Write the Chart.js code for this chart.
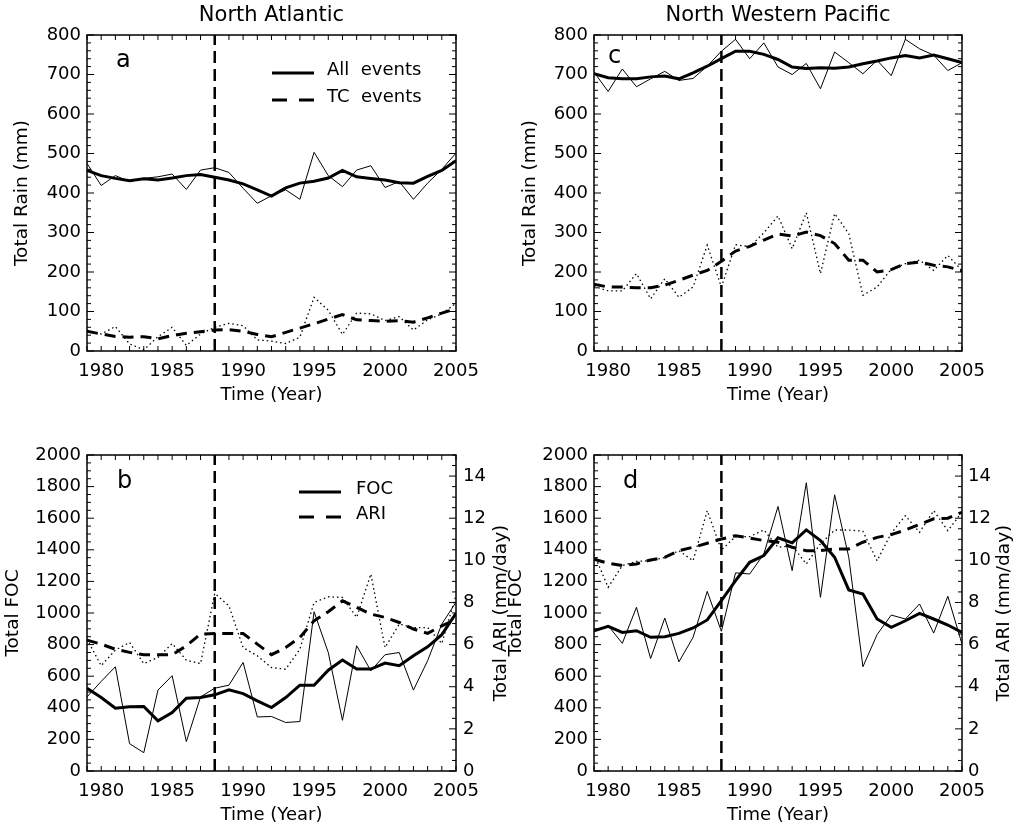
<!DOCTYPE html>
<html lang="en">
<head>
<meta charset="UTF-8">
<title>Rain, FOC and ARI time series</title>
<style>
  body { margin: 0; background: #fff; width: 1019px; height: 828px; overflow: hidden; position: relative; }
  canvas { position: absolute; }
</style>
<script src="https://cdn.jsdelivr.net/npm/chart.js"></script>
</head>
<body>
<canvas id="panelA" width="510" height="414" style="left:0;top:0"></canvas>
<canvas id="panelC" width="519" height="414" style="left:500px;top:0"></canvas>
<canvas id="panelB" width="514" height="414" style="left:0;top:420px"></canvas>
<canvas id="panelD" width="519" height="414" style="left:500px;top:420px"></canvas>
<script>
// years and axis ticks
const years = [1979, 1980, 1981, 1982, 1983, 1984, 1985, 1986, 1987, 1988, 1989, 1990, 1991,
               1992, 1993, 1994, 1995, 1996, 1997, 1998, 1999, 2000, 2001, 2002, 2003, 2004, 2005];
const yearTicks = [1980, 1985, 1990, 1995, 2000, 2005];
const shiftYear = 1988;
const rainTicks = [0, 100, 200, 300, 400, 500, 600, 700, 800];
const focTicks = [0, 200, 400, 600, 800, 1000, 1200, 1400, 1600, 1800, 2000];
const ariTicks = [0, 2, 4, 6, 8, 10, 12, 14];
const rainRange = [0, 800];
const focRange = [0, 2000];
const ariRange = [0, 15];

// (a) North Atlantic total rain
const naRainAll = [475, 419, 444, 429, 437, 441, 448, 409, 458, 464, 452, 412, 374, 393, 408, 384, 503, 444, 416, 458, 469, 414, 429, 384, 425, 460, 501];
const naRainAllSmooth = [457, 444, 437, 431, 436, 433, 438, 444, 447, 440, 433, 423, 408, 392, 413, 425, 430, 438, 457, 441, 437, 433, 426, 425, 442, 457, 482];
const naRainTC = [52, 43, 62, 18, 3, 36, 60, 14, 43, 60, 70, 64, 28, 25, 19, 35, 136, 103, 42, 96, 94, 77, 87, 53, 79, 94, 121];
const naRainTCSmooth = [50, 43, 37, 35, 36, 31, 39, 45, 49, 53, 54, 50, 42, 36, 47, 58, 69, 81, 92, 79, 77, 75, 77, 73, 84, 96, 107];

// (c) North Western Pacific total rain
const wpRainAll = [706, 657, 714, 669, 689, 708, 685, 690, 721, 759, 789, 740, 780, 719, 700, 728, 664, 757, 730, 702, 736, 697, 789, 765, 749, 710, 730];
const wpRainAllSmooth = [702, 692, 689, 689, 694, 696, 689, 704, 721, 740, 759, 759, 751, 738, 719, 715, 717, 716, 719, 727, 734, 742, 748, 742, 749, 740, 730];
const wpRainTC = [164, 152, 152, 196, 132, 183, 136, 162, 268, 162, 269, 264, 299, 342, 259, 350, 196, 348, 297, 141, 162, 207, 221, 230, 204, 242, 204];
const wpRainTCSmooth = [169, 162, 162, 160, 160, 167, 179, 192, 204, 227, 253, 265, 281, 296, 291, 301, 292, 272, 230, 230, 200, 206, 221, 225, 217, 213, 203];

// (b) North Atlantic FOC and ARI
const naFOC = [469, 567, 660, 173, 116, 512, 603, 186, 469, 524, 543, 687, 342, 345, 307, 313, 1008, 750, 321, 793, 634, 736, 750, 512, 698, 930, 1068];
const naFOCSmooth = [524, 465, 397, 406, 408, 317, 370, 461, 465, 482, 514, 490, 444, 402, 465, 543, 543, 638, 702, 645, 645, 683, 666, 729, 786, 863, 998];
const naARI = [6.26, 5.0, 5.74, 6.10, 5.10, 5.39, 6.05, 5.26, 5.10, 8.43, 7.84, 5.86, 5.47, 4.91, 4.83, 5.78, 8.00, 8.27, 8.24, 7.29, 9.35, 5.86, 6.97, 6.81, 6.81, 6.05, 8.35];
const naARISmooth = [6.21, 6.02, 5.78, 5.63, 5.52, 5.52, 5.52, 5.94, 6.50, 6.53, 6.53, 6.53, 6.02, 5.52, 5.86, 6.34, 7.13, 7.56, 8.08, 7.77, 7.45, 7.29, 7.05, 6.74, 6.53, 6.89, 7.20];

// (d) North Western Pacific FOC and ARI
const wpFOC = [888, 920, 808, 1036, 712, 968, 691, 846, 1137, 884, 1254, 1247, 1374, 1674, 1268, 1824, 1099, 1748, 1353, 660, 863, 987, 962, 1057, 873, 1106, 803];
const wpFOCSmooth = [888, 915, 877, 888, 846, 850, 871, 905, 956, 1078, 1205, 1321, 1364, 1476, 1444, 1526, 1459, 1353, 1146, 1120, 962, 909, 951, 998, 962, 924, 877];
const wpARI = [10.30, 8.72, 9.75, 9.95, 9.98, 10.14, 10.46, 9.98, 12.36, 10.49, 11.13, 11.13, 11.44, 10.62, 10.70, 9.83, 10.78, 11.44, 11.44, 11.38, 9.98, 11.29, 12.12, 11.33, 12.36, 11.41, 12.28];
const wpARISmooth = [10.06, 9.86, 9.75, 9.83, 10.02, 10.14, 10.46, 10.62, 10.81, 11.01, 11.17, 11.06, 10.94, 10.86, 10.62, 10.46, 10.46, 10.54, 10.54, 10.86, 11.09, 11.22, 11.44, 11.70, 11.97, 12.00, 12.28];

const ink = '#000';
Chart.defaults.font.family = '"DejaVu Sans", sans-serif';
Chart.defaults.color = ink;
Chart.defaults.animation = false;

function line(values, width, dash, axis) {
  return {
    data: years.map((yr, i) => ({x: yr, y: values[i]})),
    yAxisID: axis || 'y',
    borderColor: ink,
    borderWidth: width,
    borderDash: dash,
    borderCapStyle: 'butt',
    pointRadius: 0,
    tension: 0,
    fill: false
  };
}

// vertical dashed line at 1988
function marker(range) {
  return {
    data: [{x: shiftYear, y: range[0]}, {x: shiftYear, y: range[1]}],
    yAxisID: 'y',
    borderColor: ink,
    borderWidth: 2.5,
    borderDash: [12, 6],
    pointRadius: 0
  };
}

function xScale() {
  return {
    type: 'linear',
    min: years[0],
    max: years[years.length - 1],
    afterBuildTicks: s => { s.ticks = yearTicks.map(v => ({value: v})); },
    afterFit: s => { s.height = 63; },
    grid: {display: false, drawTicks: false},
    border: {display: false},
    ticks: {padding: 10, font: {size: 18}, callback: v => String(v), maxRotation: 0, autoSkip: false},
    title: {display: true, text: 'Time (Year)', font: {size: 18}, padding: {top: 0, bottom: 7.7}}
  };
}

function leftScale(tickVals, range, title, width, titlePad) {
  return {
    type: 'linear',
    position: 'left',
    min: range[0],
    max: range[1],
    afterBuildTicks: s => { s.ticks = tickVals.map(v => ({value: v})); },
    afterFit: s => { s.width = width; },
    grid: {display: false, drawTicks: false},
    border: {display: false},
    ticks: {padding: 6, font: {size: 18}, callback: v => String(v), autoSkip: false},
    title: {display: true, text: title, font: {size: 18.5}, padding: {top: titlePad, bottom: 0}}
  };
}

function rightScale(tickVals, range, width, pad) {
  return {
    type: 'linear',
    position: 'right',
    min: range[0],
    max: range[1],
    afterBuildTicks: s => { s.ticks = tickVals.map(v => ({value: v})); },
    afterFit: s => { s.width = width; },
    grid: {display: false, drawTicks: false},
    border: {display: false},
    ticks: {padding: pad, font: {size: 18}, callback: v => String(v), autoSkip: false}
  };
}

// frame, inward ticks, panel letter, legend, right axis title
const panelDeco = {
  id: 'panelDeco',
  afterDatasetsDraw(chart, args, o) {
    const {ctx, chartArea: a, scales} = chart;
    ctx.save();
    ctx.strokeStyle = ink;
    ctx.fillStyle = ink;
    ctx.setLineDash([]);
    ctx.lineWidth = 1.5;
    ctx.strokeRect(a.left, a.top, a.right - a.left, a.bottom - a.top);

    ctx.lineWidth = 1;
    ctx.beginPath();
    years.forEach(yr => {
      const px = scales.x.getPixelForValue(yr);
      ctx.moveTo(px, a.bottom); ctx.lineTo(px, a.bottom - 5);
      ctx.moveTo(px, a.top); ctx.lineTo(px, a.top + 5);
    });
    const tickSide = (scale, minor, major, left, right) => {
      for (let v = scale.min; v <= scale.max + 1e-9; v += minor) {
        const py = scale.getPixelForValue(v);
        const r = v / major;
        const len = Math.abs(r - Math.round(r)) < 1e-6 ? 7 : 4;
        if (left) { ctx.moveTo(a.left, py); ctx.lineTo(a.left + len, py); }
        if (right) { ctx.moveTo(a.right, py); ctx.lineTo(a.right - len, py); }
      }
    };
    tickSide(scales.y, o.yMinor, o.yMajor, true, !scales.y2);
    if (scales.y2) tickSide(scales.y2, o.y2Minor, o.y2Major, false, true);
    ctx.stroke();

    ctx.font = '24px "DejaVu Sans"';
    ctx.textBaseline = 'alphabetic';
    ctx.textAlign = 'left';
    ctx.fillText(o.letter, a.left + o.letterAt[0], a.top + o.letterAt[1]);

    if (o.legend) {
      const L = o.legend;
      ctx.font = '18px "DejaVu Sans"';
      L.items.forEach((it, i) => {
        const y = a.top + L.at[1] + i * L.rowGap;
        const x = a.left + L.at[0];
        ctx.lineWidth = 3;
        ctx.setLineDash(it.dash);
        ctx.beginPath();
        ctx.moveTo(x, y); ctx.lineTo(x + 42, y);
        ctx.stroke();
        ctx.setLineDash([]);
        ctx.fillText(it.text, x + L.textGap, y + 2);
      });
    }

    if (o.rightTitle && scales.y2) {
      ctx.font = '18.5px "DejaVu Sans"';
      ctx.textAlign = 'center';
      ctx.textBaseline = 'middle';
      ctx.translate(scales.y2.right - o.rightTitle.inset, (a.top + a.bottom) / 2);
      ctx.rotate(-Math.PI / 2);
      ctx.fillText(o.rightTitle.text, 0, 0);
    }
    ctx.restore();
  }
};

function topTitle(text) {
  return {display: true, text: text, fullSize: false, font: {size: 21, weight: 'normal'},
          color: ink, padding: {top: 3, bottom: 6.8}};
}

// (a)
new Chart(document.getElementById('panelA'), {
  type: 'line',
  data: {datasets: [
    marker(rainRange),
    line(naRainAll, 1, []),
    line(naRainTC, 1.3, [1.5, 3]),
    line(naRainAllSmooth, 3, []),
    line(naRainTCSmooth, 3, [11, 7])
  ]},
  options: {
    responsive: false,
    layout: {padding: {left: 0, right: 54, top: 0, bottom: 0}},
    scales: {x: xScale(), y: leftScale(rainTicks, rainRange, 'Total Rain (mm)', 87, 10.9)},
    plugins: {
      legend: {display: false},
      tooltip: {enabled: false},
      title: topTitle('North Atlantic'),
      panelDeco: {
        letter: 'a', letterAt: [29, 32], yMinor: 20, yMajor: 100,
        legend: {at: [185, 38], rowGap: 27, textGap: 55,
                 items: [{text: 'All  events', dash: []}, {text: 'TC  events', dash: [15, 12]}]}
      }
    }
  },
  plugins: [panelDeco]
});

// (c)
new Chart(document.getElementById('panelC'), {
  type: 'line',
  data: {datasets: [
    marker(rainRange),
    line(wpRainAll, 1, []),
    line(wpRainTC, 1.3, [1.5, 3]),
    line(wpRainAllSmooth, 3, []),
    line(wpRainTCSmooth, 3, [11, 7])
  ]},
  options: {
    responsive: false,
    layout: {padding: {left: 0, right: 57, top: 0, bottom: 0}},
    scales: {x: xScale(), y: leftScale(rainTicks, rainRange, 'Total Rain (mm)', 94, 18.9)},
    plugins: {
      legend: {display: false},
      tooltip: {enabled: false},
      title: topTitle('North Western Pacific'),
      panelDeco: {letter: 'c', letterAt: [14, 28], yMinor: 20, yMajor: 100}
    }
  },
  plugins: [panelDeco]
});

// (b)
new Chart(document.getElementById('panelB'), {
  type: 'line',
  data: {datasets: [
    marker(focRange),
    line(naFOC, 1, []),
    line(naARI, 1.3, [1.5, 3], 'y2'),
    line(naFOCSmooth, 3, []),
    line(naARISmooth, 3, [11, 7], 'y2')
  ]},
  options: {
    responsive: false,
    layout: {padding: {left: 0, right: 0, top: 35, bottom: 0}},
    scales: {
      x: xScale(),
      y: leftScale(focTicks, focRange, 'Total FOC', 87, 1.9),
      y2: rightScale(ariTicks, ariRange, 58, 7)
    },
    plugins: {
      legend: {display: false},
      tooltip: {enabled: false},
      panelDeco: {
        letter: 'b', letterAt: [30, 33], yMinor: 50, yMajor: 200, y2Minor: 0.5, y2Major: 2,
        rightTitle: {text: 'Total ARI (mm/day)', inset: 13},
        legend: {at: [212, 37], rowGap: 25, textGap: 57,
                 items: [{text: 'FOC', dash: []}, {text: 'ARI', dash: [15, 12]}]}
      }
    }
  },
  plugins: [panelDeco]
});

// (d)
new Chart(document.getElementById('panelD'), {
  type: 'line',
  data: {datasets: [
    marker(focRange),
    line(wpFOC, 1, []),
    line(wpARI, 1.3, [1.5, 3], 'y2'),
    line(wpFOCSmooth, 3, []),
    line(wpARISmooth, 3, [11, 7], 'y2')
  ]},
  options: {
    responsive: false,
    layout: {padding: {left: 0, right: 0, top: 35, bottom: 0}},
    scales: {
      x: xScale(),
      y: leftScale(focTicks, focRange, 'Total FOC', 94, 4.9),
      y2: rightScale(ariTicks, ariRange, 57, 6)
    },
    plugins: {
      legend: {display: false},
      tooltip: {enabled: false},
      panelDeco: {
        letter: 'd', letterAt: [29, 33], yMinor: 50, yMajor: 200, y2Minor: 0.5, y2Major: 2,
        rightTitle: {text: 'Total ARI (mm/day)', inset: 15}
      }
    }
  },
  plugins: [panelDeco]
});
</script>
</body>
</html>
